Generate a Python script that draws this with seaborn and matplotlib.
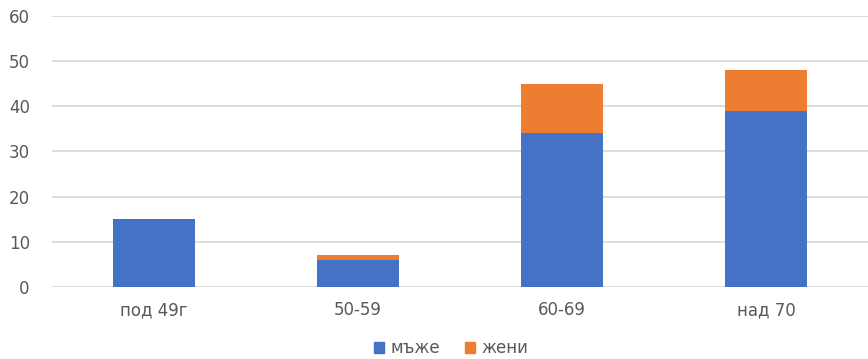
import matplotlib
matplotlib.use("Agg")
import matplotlib.pyplot as plt
from matplotlib.patches import Patch
import seaborn as sns
import pandas as pd

categories = ["под 49г", "50-59", "60-69", "над 70"]
men = [15, 6, 34, 39]
women = [0, 1, 11, 9]
series_names = ["мъже", "жени"]
y_ticks = [0, 10, 20, 30, 40, 50, 60]

BLUE = "#4472C4"
ORANGE = "#ED7D31"
TEXT = "#595959"
GRID = "#D9D9D9"

sns.set_theme(style="white")
plt.rcParams["font.family"] = ["DejaVu Sans"]

df = pd.DataFrame({"group": categories, "men": men, "women": women})

fig = plt.figure(figsize=(8.68, 3.59), dpi=100)
ax = fig.add_axes([0.06, 0.2006, 0.94, 0.755])

sns.barplot(data=df, x="group", y="men", color=BLUE, width=0.4,
            saturation=1, ax=ax, zorder=3, order=categories, linewidth=0)
sns.barplot(data=df, x="group", y="women", color=ORANGE, width=0.4,
            saturation=1, ax=ax, zorder=3, order=categories, linewidth=0,
            bottom=df["men"].values)

ax.set_ylim(0, 60)
ax.set_xlim(-0.5, len(categories) - 0.5)
ax.set_yticks(y_ticks)
ax.set_xlabel("")
ax.set_ylabel("")
ax.grid(axis="y", color=GRID, linewidth=1.3, zorder=0)
ax.set_axisbelow(True)
for s in ["top", "right", "left", "bottom"]:
    ax.spines[s].set_visible(False)
ax.tick_params(axis="both", length=0, colors=TEXT, labelsize=12)
ax.tick_params(axis="y", pad=16)
ax.tick_params(axis="x", pad=10)

handles = [Patch(color=BLUE), Patch(color=ORANGE)]
fig.legend(handles, series_names, loc="center", bbox_to_anchor=(0.52, 0.03),
           ncol=2, frameon=False, fontsize=12, labelcolor=TEXT,
           handlelength=0.6, handleheight=0.6, handletextpad=0.4,
           columnspacing=1.5)

fig.savefig("out.png", dpi=100)
